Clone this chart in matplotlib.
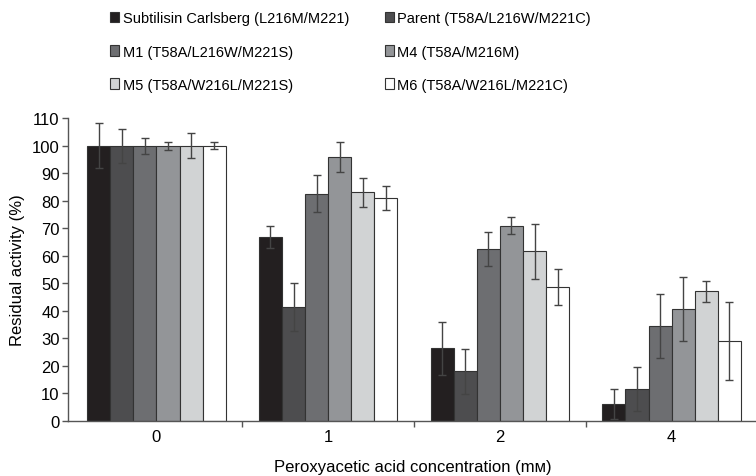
import numpy as np
import matplotlib.pyplot as plt
from matplotlib.patches import Patch

plt.rcParams['font.family'] = ['Liberation Sans', 'DejaVu Sans']

# data
concentrations = ['0', '1', '2', '4']
labels = ['Subtilisin Carlsberg (L216M/M221)', 'Parent (T58A/L216W/M221C)',
          'M1 (T58A/L216W/M221S)', 'M4 (T58A/M216M)',
          'M5 (T58A/W216L/M221S)', 'M6 (T58A/W216L/M221C)']
colors = ['#231f20', '#4d4d4f', '#6d6e71', '#939598', '#d1d3d4', '#ffffff']

carlsberg = [100, 66.9, 26.3, 6.0]
parent = [100, 41.4, 17.9, 11.4]
m1 = [100, 82.6, 62.5, 34.4]
m4 = [100, 95.9, 70.9, 40.6]
m5 = [100, 83.0, 61.7, 47.1]
m6 = [100, 81.0, 48.5, 29.1]

carlsberg_err = [8.2, 4.0, 9.7, 5.4]
parent_err = [6.1, 8.8, 8.2, 8.0]
m1_err = [2.9, 6.7, 6.2, 11.5]
m4_err = [1.4, 5.3, 3.1, 11.7]
m5_err = [4.6, 5.2, 10.0, 3.8]
m6_err = [1.2, 4.2, 6.5, 14.2]

values = [carlsberg, parent, m1, m4, m5, m6]
errors = [carlsberg_err, parent_err, m1_err, m4_err, m5_err, m6_err]

fig = plt.figure(figsize=(7.56, 4.77), dpi=100)
ax = fig.add_axes([0.090, 0.116, 0.912, 0.634])

x = np.arange(len(concentrations))
width = 0.1345
for i, (vals, errs) in enumerate(zip(values, errors)):
    pos = x + (i - 2.5) * width
    ax.bar(pos, vals, width, color=colors[i], edgecolor='#333333', linewidth=0.8, zorder=2)
    ax.errorbar(pos, vals, yerr=errs, fmt='none', ecolor='#444444', elinewidth=1,
                capsize=3.2, capthick=1, zorder=3)

ax.set_xlim(-0.515, 3.5)
ax.set_ylim(0, 110)
ax.set_yticks(np.arange(0, 111, 10))
ax.set_xticks(x)
ax.set_xticklabels(concentrations)
ax.set_xticks([0.5, 1.5, 2.5], minor=True)
ax.tick_params(axis='x', which='major', length=0, labelsize=12, pad=6)
ax.tick_params(axis='x', which='minor', length=4, width=1, color='#555555')
ax.tick_params(axis='y', length=4, width=1, color='#555555', labelsize=12, pad=2)
for s in ['top', 'right']:
    ax.spines[s].set_visible(False)
for s in ['left', 'bottom']:
    ax.spines[s].set_color('#555555')
    ax.spines[s].set_linewidth(1)

ax.set_ylabel('Residual activity (%)', fontsize=12, labelpad=5)
ax.set_xlabel('Peroxyacetic acid concentration (mм)', fontsize=12, labelpad=11)

handles = [Patch(facecolor=c, edgecolor='#333333', linewidth=0.8) for c in colors]
order = [0, 2, 4, 1, 3, 5]
fig.legend([handles[i] for i in order], [labels[i] for i in order], ncol=2,
           loc='upper left', bbox_to_anchor=(0.1455, 0.974), frameon=False,
           borderaxespad=0, borderpad=0,
           fontsize=10.5, handlelength=0.65, handleheight=0.7, handletextpad=0.22,
           labelspacing=1.31, columnspacing=2.45)

fig.savefig('out.png', dpi=100)
